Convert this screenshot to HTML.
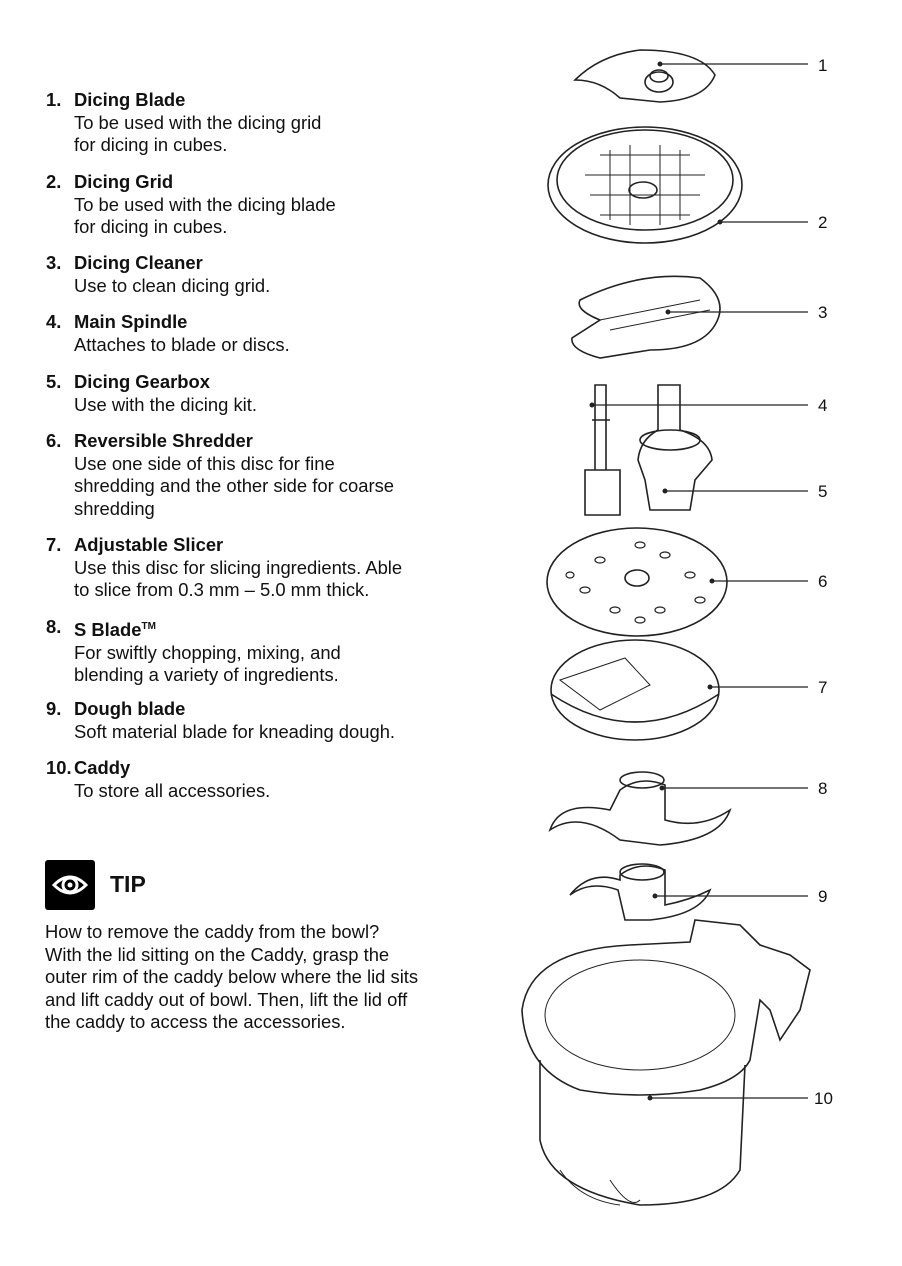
<!DOCTYPE html>
<html><head><meta charset="utf-8"><style>
body{margin:0;background:#fff;width:902px;height:1266px;position:relative;overflow:hidden;font-family:"Liberation Sans",Arial,sans-serif;color:#111}
.t{position:absolute;font-size:18.4px;line-height:22.5px;white-space:nowrap;letter-spacing:0}
.n{position:absolute;font-size:18.4px;font-weight:bold;left:46px}
b{font-weight:bold}
.num{position:absolute;font-size:17px;left:818px}
</style></head><body>
<div class="n" style="top:89px">1.</div><div class="t" style="left:74px;top:89px"><b>Dicing Blade</b><br>To be used with the dicing grid<br>for dicing in cubes.</div>
<div class="n" style="top:171px">2.</div><div class="t" style="left:74px;top:171px"><b>Dicing Grid</b><br>To be used with the dicing blade<br>for dicing in cubes.</div>
<div class="n" style="top:252px">3.</div><div class="t" style="left:74px;top:252px"><b>Dicing Cleaner</b><br>Use to clean dicing grid.</div>
<div class="n" style="top:311px">4.</div><div class="t" style="left:74px;top:311px"><b>Main Spindle</b><br>Attaches to blade or discs.</div>
<div class="n" style="top:371px">5.</div><div class="t" style="left:74px;top:371px"><b>Dicing Gearbox</b><br>Use with the dicing kit.</div>
<div class="n" style="top:430px">6.</div><div class="t" style="left:74px;top:430px"><b>Reversible Shredder</b><br>Use one side of this disc for fine<br>shredding and the other side for coarse<br>shredding</div>
<div class="n" style="top:534px">7.</div><div class="t" style="left:74px;top:534px"><b>Adjustable Slicer</b><br>Use this disc for slicing ingredients. Able<br>to slice from 0.3 mm – 5.0 mm thick.</div>
<div class="n" style="top:616px">8.</div><div class="t" style="left:74px;top:616px"><b>S Blade<sup style="font-size:10px">TM</sup></b><br>For swiftly chopping, mixing, and<br>blending a variety of ingredients.</div>
<div class="n" style="top:698px">9.</div><div class="t" style="left:74px;top:698px"><b>Dough blade</b><br>Soft material blade for kneading dough.</div>
<div class="n" style="top:757px">10.</div><div class="t" style="left:74px;top:757px"><b>Caddy</b><br>To store all accessories.</div>
<div style="position:absolute;left:45px;top:860px;width:50px;height:50px;background:#000;border-radius:3px">
<svg width="50" height="50"><path d="M9 25 Q25 9 41 25 Q25 41 9 25Z" fill="none" stroke="#fff" stroke-width="3"/><circle cx="25" cy="25" r="7" fill="none" stroke="#fff" stroke-width="3"/><circle cx="25" cy="25" r="2.5" fill="#fff"/></svg></div>
<div style="position:absolute;left:110px;top:871px;font-size:23px;font-weight:bold">TIP</div>
<div class="t" style="left:45px;top:921px">How to remove the caddy from the bowl?<br>With the lid sitting on the Caddy, grasp the<br>outer rim of the caddy below where the lid sits<br>and lift caddy out of bowl. Then, lift the lid off<br>the caddy to access the accessories.</div>

<svg style="position:absolute;left:0;top:0" width="902" height="1266" fill="none" stroke="#222" stroke-width="1.6">
<path d="M575 80 Q600 55 640 50 Q700 50 715 75 Q705 100 660 102 L620 98 Q600 80 575 80Z"/>
<ellipse cx="659" cy="82" rx="14" ry="10"/><ellipse cx="659" cy="76" rx="9" ry="6"/>
<ellipse cx="645" cy="185" rx="97" ry="58"/><ellipse cx="645" cy="180" rx="88" ry="50"/>
<path d="M585 175 L705 175 M590 195 L700 195 M600 155 L690 155 M600 215 L690 215 M610 150 L610 220 M630 145 L630 225 M660 145 L660 225 M680 150 L680 220" stroke-width="1"/>
<ellipse cx="643" cy="190" rx="14" ry="8"/>
<path d="M580 300 Q640 270 700 278 Q730 300 715 325 Q700 350 650 350 L600 358 Q570 350 572 338 L600 320 Q575 310 580 300Z"/>
<path d="M600 320 L700 300 M610 330 L710 310" stroke-width="1"/>
<path d="M598 385 L606 385 L606 470 L595 470 L595 385Z M592 420 L610 420 M585 470 L620 470 L620 515 L585 515Z"/>
<path d="M658 385 L680 385 L680 430 Q710 440 712 460 L695 480 L690 510 L650 510 L645 480 L638 460 Q640 440 658 430Z"/>
<ellipse cx="670" cy="440" rx="30" ry="10"/>
<ellipse cx="637" cy="582" rx="90" ry="54"/><ellipse cx="637" cy="578" rx="12" ry="8"/>
<g stroke-width="1.2">
<ellipse cx="600" cy="560" rx="5" ry="3"/><ellipse cx="665" cy="555" rx="5" ry="3"/><ellipse cx="690" cy="575" rx="5" ry="3"/><ellipse cx="585" cy="590" rx="5" ry="3"/><ellipse cx="615" cy="610" rx="5" ry="3"/><ellipse cx="660" cy="610" rx="5" ry="3"/><ellipse cx="700" cy="600" rx="5" ry="3"/><ellipse cx="570" cy="575" rx="4" ry="3"/><ellipse cx="640" cy="545" rx="5" ry="3"/><ellipse cx="640" cy="620" rx="5" ry="3"/>
</g>
<ellipse cx="635" cy="690" rx="84" ry="50"/><path d="M551 694 Q635 750 719 694"/>
<path d="M560 680 L625 658 L650 685 L600 710Z" stroke-width="1"/>
<path d="M550 830 Q560 800 610 810 L620 790 Q640 775 665 785 L665 820 Q700 830 730 810 Q720 840 660 845 L620 840 Q580 810 550 830Z"/>
<ellipse cx="642" cy="780" rx="22" ry="8"/>
<path d="M570 895 Q590 870 620 880 L620 875 Q640 860 665 870 L665 905 Q690 900 710 890 Q700 915 650 920 L625 920 L618 890 Q590 880 570 895Z"/>
<ellipse cx="642" cy="872" rx="22" ry="8"/>
<path d="M522 1010 Q530 950 630 945 L690 942 L695 920 L740 925 L760 945 L790 955 L810 970 L800 1010 L780 1040 L770 1010 L760 1000 L750 1060 Q740 1080 700 1090 Q640 1100 580 1090 Q525 1070 522 1010Z"/>
<path d="M540 1060 L540 1140 Q550 1190 640 1205 Q720 1205 740 1170 L745 1065"/>
<ellipse cx="640" cy="1015" rx="95" ry="55" stroke-width="1"/>
<path d="M560 1170 Q580 1200 620 1205 M610 1180 Q630 1210 640 1200" stroke-width="1"/>
<g stroke-width="1.2">
<path d="M660 64 L808 64 M720 222 L808 222 M668 312 L808 312 M592 405 L808 405 M665 491 L808 491 M712 581 L808 581 M710 687 L808 687 M662 788 L808 788 M655 896 L808 896 M650 1098 L808 1098"/>
</g>
<g fill="#222" stroke="none"><circle cx="660" cy="64" r="2.5"/><circle cx="720" cy="222" r="2.5"/><circle cx="668" cy="312" r="2.5"/><circle cx="592" cy="405" r="2.5"/><circle cx="665" cy="491" r="2.5"/><circle cx="712" cy="581" r="2.5"/><circle cx="710" cy="687" r="2.5"/><circle cx="662" cy="788" r="2.5"/><circle cx="655" cy="896" r="2.5"/><circle cx="650" cy="1098" r="2.5"/></g>
</svg>
<div class="num" style="top:56px">1</div><div class="num" style="top:213px">2</div><div class="num" style="top:303px">3</div><div class="num" style="top:396px">4</div><div class="num" style="top:482px">5</div><div class="num" style="top:572px">6</div><div class="num" style="top:678px">7</div><div class="num" style="top:779px">8</div><div class="num" style="top:887px">9</div><div class="num" style="top:1089px;left:814px">10</div>
</body></html>
